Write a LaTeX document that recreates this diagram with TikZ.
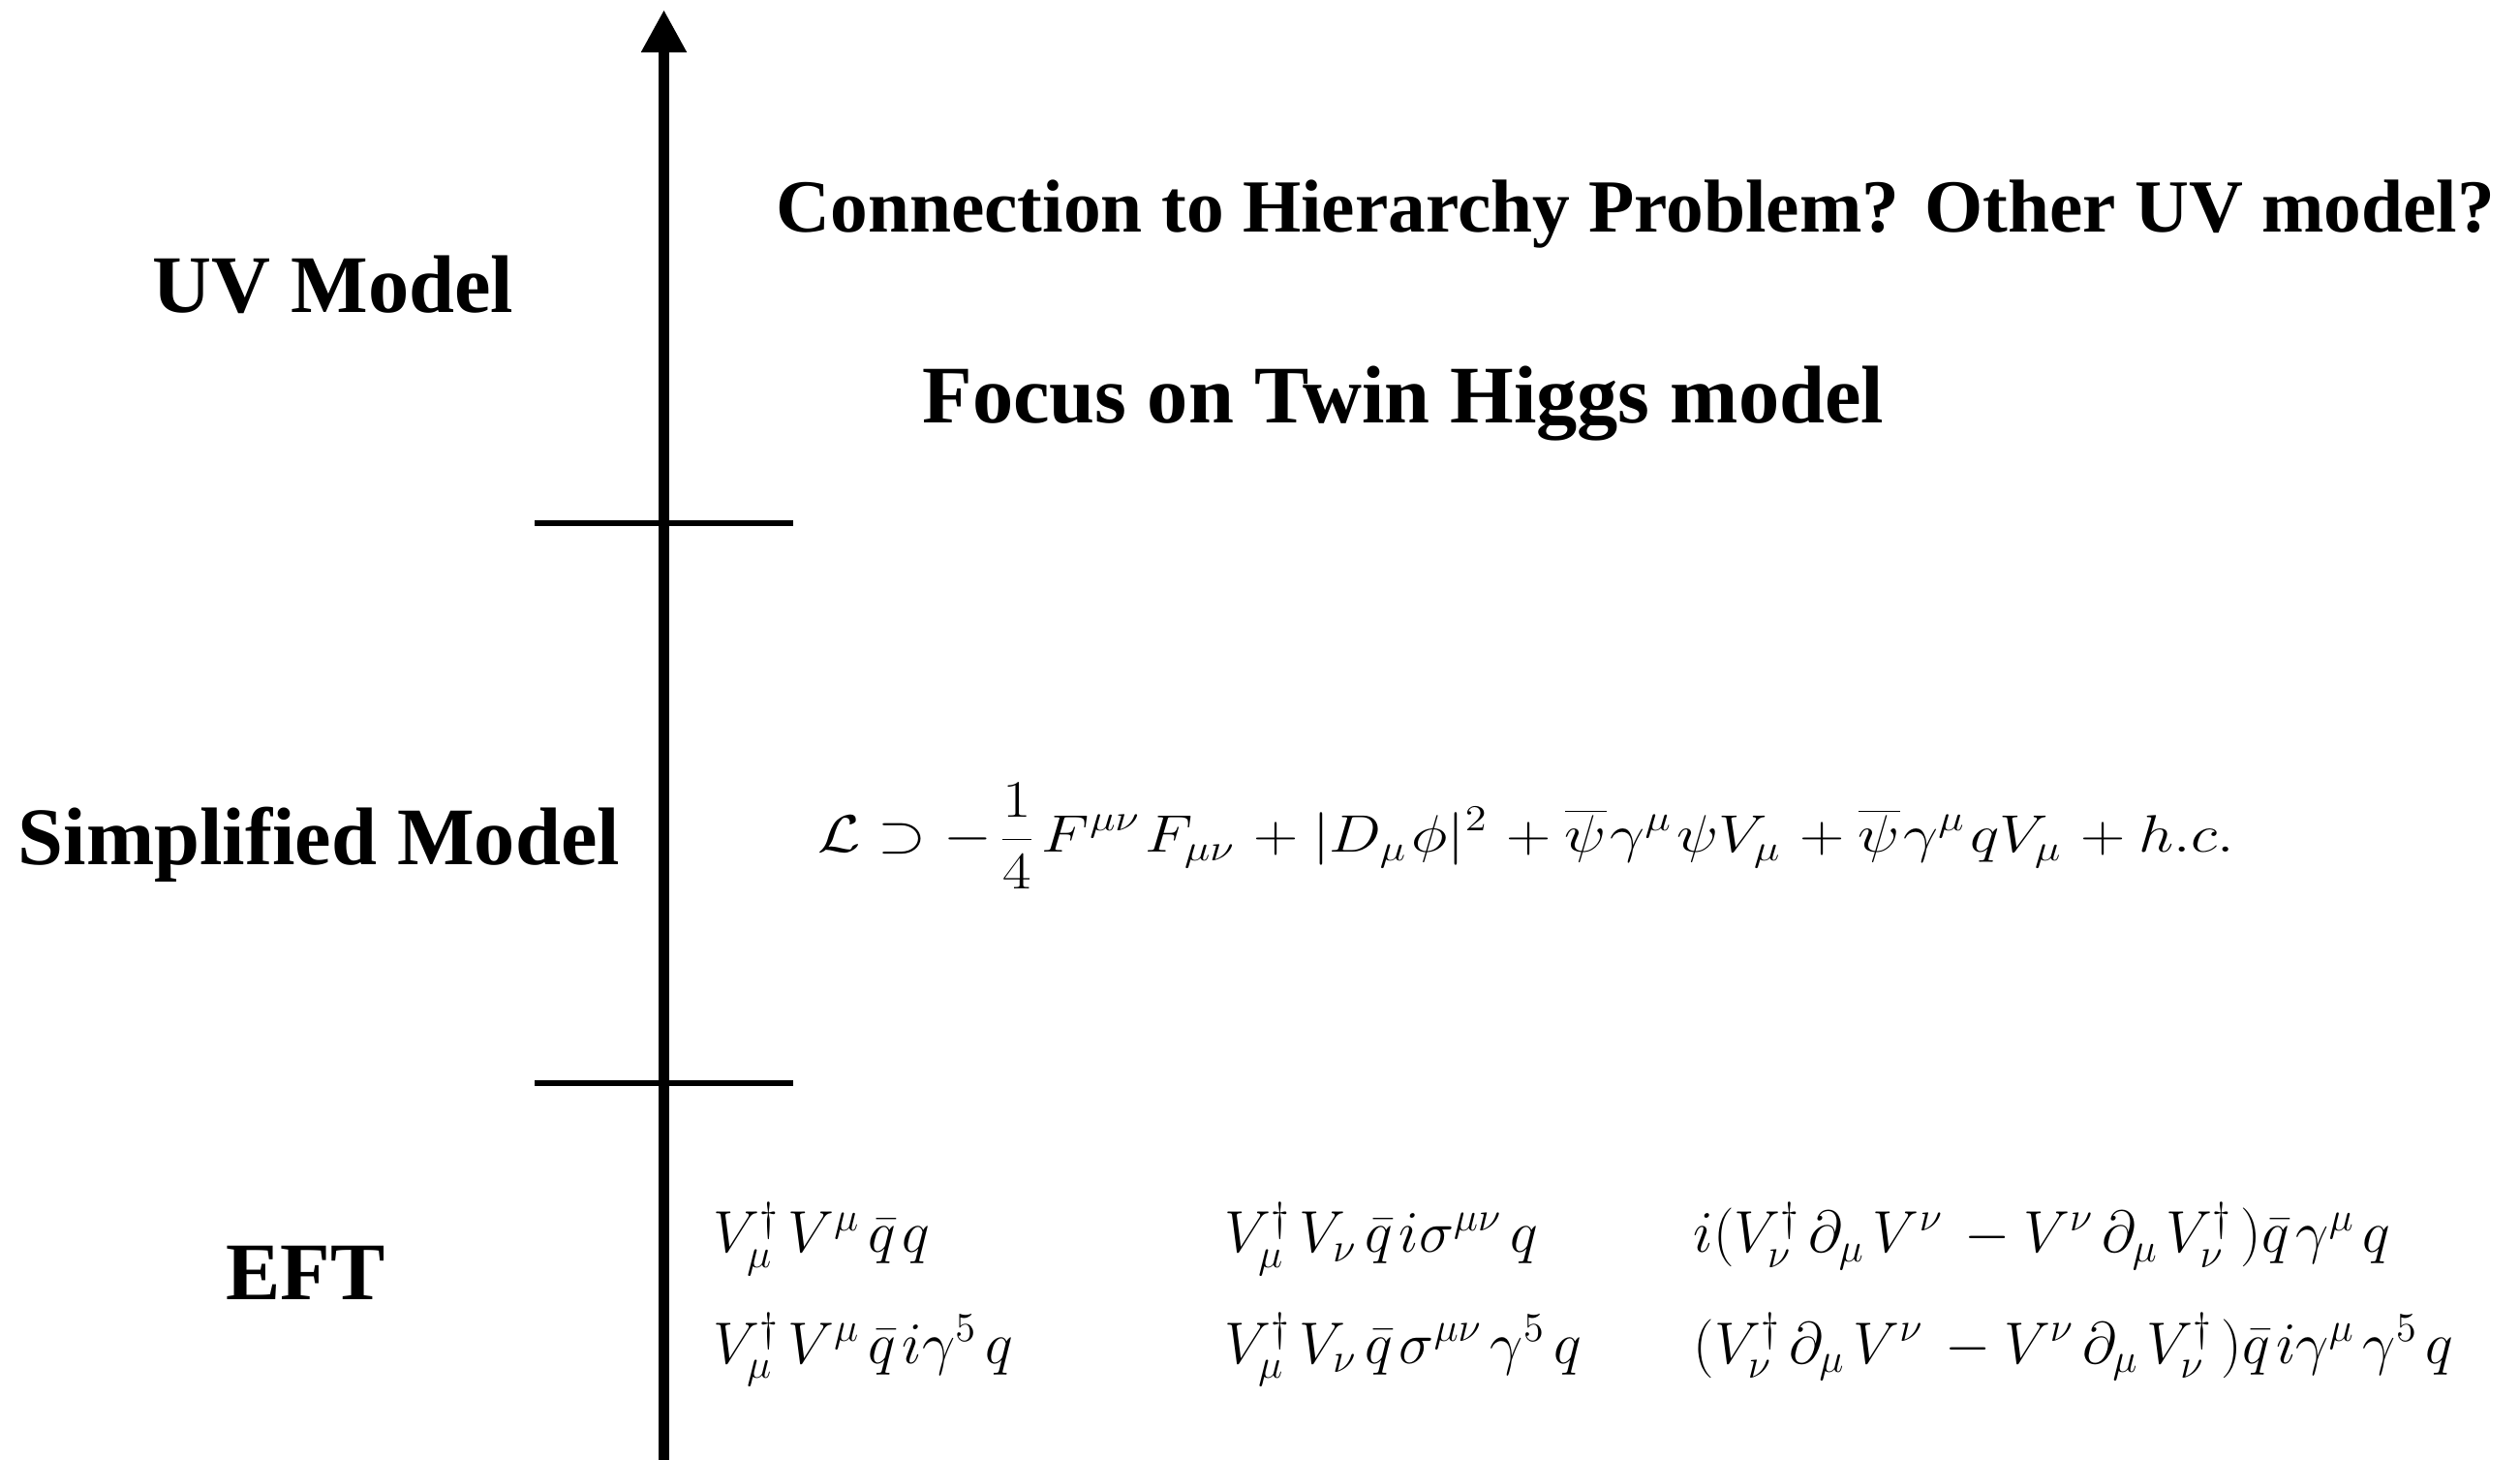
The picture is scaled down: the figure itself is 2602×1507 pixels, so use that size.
\documentclass[tikz,border=0pt]{standalone}
\usepackage{graphicx}
\usepackage{fontspec}
\setmainfont{Liberation Serif}
\usetikzlibrary{arrows.meta}
\newcommand\qbr{\bar{q}\mkern2mu}
\newcommand\psibr{\overline{\psi}\mkern1mu}
\newcommand\lagset{\scriptspace=1.8pt\relax\nulldelimiterspace=3pt\relax}
\newcommand\eftset{\scriptspace=2.9pt\relax}
\begin{document}
\begin{tikzpicture}[x=0.01cm,y=-0.01cm,
  axisline/.style={line width=0.11cm,-{Triangle[width=0.44cm,length=0.44cm]}},
  tickline/.style={line width=0.06cm},
  lbl/.style={anchor=base west,inner sep=0pt,font=\fontsize{24}{28}\selectfont\bfseries},
  lblq/.style={anchor=base west,inner sep=0pt,font=\fontsize{22}{26}\selectfont\bfseries},
  lagr/.style={anchor=base west,inner sep=0pt,font=\fontsize{17}{20}\selectfont},
  eft/.style={anchor=base west,inner sep=0pt,font=\fontsize{18.8}{22}\selectfont}]
\useasboundingbox (0,0) rectangle (2602,1507);
\coordinate (ax0) at (685.5,1507);
\coordinate (ax1) at (685.5,10);
\draw[axisline] (ax0) -- (ax1);
\coordinate (t1a) at (552,540);
\coordinate (t1b) at (819,540);
\coordinate (t2a) at (552,1118);
\coordinate (t2b) at (819,1118);
\draw[tickline] (t1a) -- (t1b);
\draw[tickline] (t2a) -- (t2b);
\node[lbl] (uv) at (157,323) {UV Model};
\node[lblq] (conn) at (801,240) {Connection to Hierarchy Problem? Other UV model?};
\node[lbl] (focus) at (952,437) {Focus on Twin Higgs model};
\node[lbl] (simp) at (18,893) {Simplified Model};
\node[lbl] (eftl) at (233,1342) {EFT};
\node[lagr] (lag) at (844,880) {\lagset\resizebox*{14.61cm}{1.09cm}{$\displaystyle \mathcal{L}\supset -\frac{1}{4}F^{\mu\nu}F_{\mu\nu}+|D_\mu\phi|^2+\psibr\gamma^\mu\psi V_\mu+\psibr\gamma^\mu q V_\mu + h.c.$}};
\node[eft] (e11) at (736,1293) {\eftset$V_\mu^\dagger V^\mu\qbr q$};
\node[eft] (e12) at (1264,1293) {\eftset$V_\mu^\dagger V_\nu\qbr i\sigma^{\mu\nu}q$};
\node[eft] (e13) at (1748,1293) {\eftset$i(V_\nu^\dagger\partial_\mu V^\nu-V^\nu\partial_\mu V_\nu^\dagger)\qbr\gamma^\mu q$};
\node[eft] (e21) at (736,1407) {\eftset$V_\mu^\dagger V^\mu\qbr i\gamma^5 q$};
\node[eft] (e22) at (1264,1407) {\eftset$V_\mu^\dagger V_\nu\qbr\sigma^{\mu\nu}\gamma^5 q$};
\node[eft] (e23) at (1748,1407) {\eftset$(V_\nu^\dagger\partial_\mu V^\nu-V^\nu\partial_\mu V_\nu^\dagger)\qbr i\gamma^\mu\gamma^5 q$};
\end{tikzpicture}
\end{document}
